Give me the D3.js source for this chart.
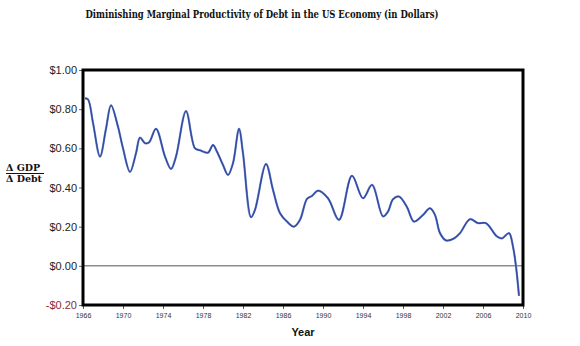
<!DOCTYPE html>
<html>
<head>
<meta charset="utf-8">
<script src="https://cdn.jsdelivr.net/npm/d3@7"></script>
<style>
  body { margin: 0; background: #fff; }
  svg { display: block; }
</style>
</head>
<body>
<svg width="580" height="346"></svg>
<script>
// data
var years = [1966.2, 1966.5, 1967.0, 1967.7, 1968.3, 1968.8, 1969.5, 1970.0, 1970.7, 1971.3, 1971.7, 1972.2,
  1972.6, 1973.3, 1974.2, 1974.8, 1975.3, 1976.3, 1977.2, 1977.7, 1978.5, 1979.0, 1979.4, 1980.0,
  1980.5, 1981.0, 1981.6, 1982.0, 1982.8, 1983.2, 1984.3, 1985.0, 1985.7, 1986.4, 1987.1, 1987.7,
  1988.4, 1988.9, 1989.5, 1990.5, 1991.6, 1992.9, 1994.0, 1994.9, 1996.0, 1996.5, 1997.0, 1997.6,
  1998.4, 1999.1, 2000.0, 2000.7, 2001.2, 2001.7, 2002.3, 2003.1, 2003.7, 2004.7, 2005.5, 2006.3,
  2007.4, 2007.9, 2008.6, 2009.0, 2009.3, 2009.6];
var values = [0.855, 0.85, 0.73, 0.558, 0.70, 0.82, 0.71, 0.60, 0.48, 0.575, 0.655, 0.626,
  0.63, 0.70, 0.558, 0.495, 0.558, 0.79, 0.60, 0.59, 0.578, 0.617, 0.583, 0.515,
  0.464, 0.524, 0.70, 0.575, 0.248, 0.286, 0.52, 0.388, 0.269, 0.226, 0.20, 0.235,
  0.342, 0.357, 0.384, 0.345, 0.235, 0.46, 0.345, 0.413, 0.252, 0.277, 0.34, 0.354,
  0.30, 0.226, 0.26, 0.294, 0.26, 0.167, 0.13, 0.14, 0.167, 0.238, 0.218, 0.218,
  0.15, 0.14, 0.167, 0.098, -0.003, -0.153];
var yearTicks = [1966, 1970, 1974, 1978, 1982, 1986, 1990, 1994, 1998, 2002, 2006, 2010];
var valueTicks = [-0.2, 0, 0.2, 0.4, 0.6, 0.8, 1.0];

var data = years.map(function(d, i) {
  return { year: d, value: values[i] };
});

var svg = d3.select("svg");
var margin = { top: 70, right: 57, bottom: 41, left: 83 },
  width = 580 - margin.left - margin.right,
  height = 346 - margin.top - margin.bottom;

var x = d3.scaleLinear().domain([1966, 2010]).range([0, width]);
var y = d3.scaleLinear().domain([-0.2, 1.0]).range([height, 0]);

var g = svg.append("g")
  .attr("transform", "translate(" + margin.left + "," + margin.top + ")");

// title
svg.append("text")
  .attr("x", 262)
  .attr("y", 18)
  .attr("text-anchor", "middle")
  .attr("font-family", "DejaVu Serif")
  .attr("font-weight", "bold")
  .attr("font-size", 11)
  .attr("textLength", 353)
  .attr("lengthAdjust", "spacingAndGlyphs")
  .attr("fill", "#111")
  .text("Diminishing Marginal Productivity of Debt in the US Economy  (in Dollars)");

// y axis
var yAxis = g.append("g")
  .call(d3.axisLeft(y).tickValues(valueTicks).tickSize(4).tickPadding(2)
    .tickFormat(function(d) {
      return (d < 0 ? "-$" : "$") + Math.abs(d).toFixed(2);
    }));
yAxis.select(".domain").remove();
yAxis.selectAll("line").attr("stroke", "#666");
yAxis.selectAll("text")
  .attr("font-family", "Liberation Sans, Arial, sans-serif")
  .attr("font-size", 11)
  .attr("fill", function(d) { return d < 0 ? "#8a2a3c" : "#222"; });

// x axis
var xAxis = g.append("g")
  .attr("transform", "translate(0," + height + ")")
  .call(d3.axisBottom(x).tickValues(yearTicks).tickSize(4).tickPadding(4)
    .tickFormat(d3.format("d")));
xAxis.select(".domain").remove();
xAxis.selectAll("line").attr("stroke", "#555");
xAxis.selectAll("text")
  .attr("font-family", "Liberation Sans, Arial, sans-serif")
  .attr("font-size", 7)
  .attr("fill", "#333");

// zero line
g.append("line")
  .attr("x1", 0).attr("x2", width)
  .attr("y1", y(0)).attr("y2", y(0))
  .attr("stroke", "#555")
  .attr("stroke-width", 1);

// series
var line = d3.line()
  .x(function(d) { return x(d.year); })
  .y(function(d) { return y(d.value); })
  .curve(d3.curveCatmullRom.alpha(0.5));

g.append("path")
  .datum(data)
  .attr("fill", "none")
  .attr("stroke", "#6a8ad0")
  .attr("stroke-width", 2.2)
  .attr("d", line);
g.append("path")
  .datum(data)
  .attr("fill", "none")
  .attr("stroke", "#34489e")
  .attr("stroke-width", 1.3)
  .attr("d", line);

// frame
g.append("rect")
  .attr("x", 0).attr("y", 0)
  .attr("width", width).attr("height", height)
  .attr("fill", "none")
  .attr("stroke", "#000")
  .attr("stroke-width", 3);

// axis titles
svg.append("text")
  .attr("x", margin.left + width / 2)
  .attr("y", 336)
  .attr("text-anchor", "middle")
  .attr("font-family", "Liberation Sans, Arial, sans-serif")
  .attr("font-weight", "bold")
  .attr("font-size", 11)
  .attr("fill", "#111")
  .text("Year");

var ylab = svg.append("g")
  .attr("font-family", "DejaVu Serif")
  .attr("font-weight", "bold")
  .attr("font-size", 9.5)
  .attr("fill", "#111");
ylab.append("text").attr("x", 6).attr("y", 171).text("\u0394 GDP");
ylab.append("line")
  .attr("x1", 6).attr("x2", 44)
  .attr("y1", 173.5).attr("y2", 173.5)
  .attr("stroke", "#111").attr("stroke-width", 1);
ylab.append("text").attr("x", 6).attr("y", 181.5).text("\u0394 Debt");
</script>
</body>
</html>
